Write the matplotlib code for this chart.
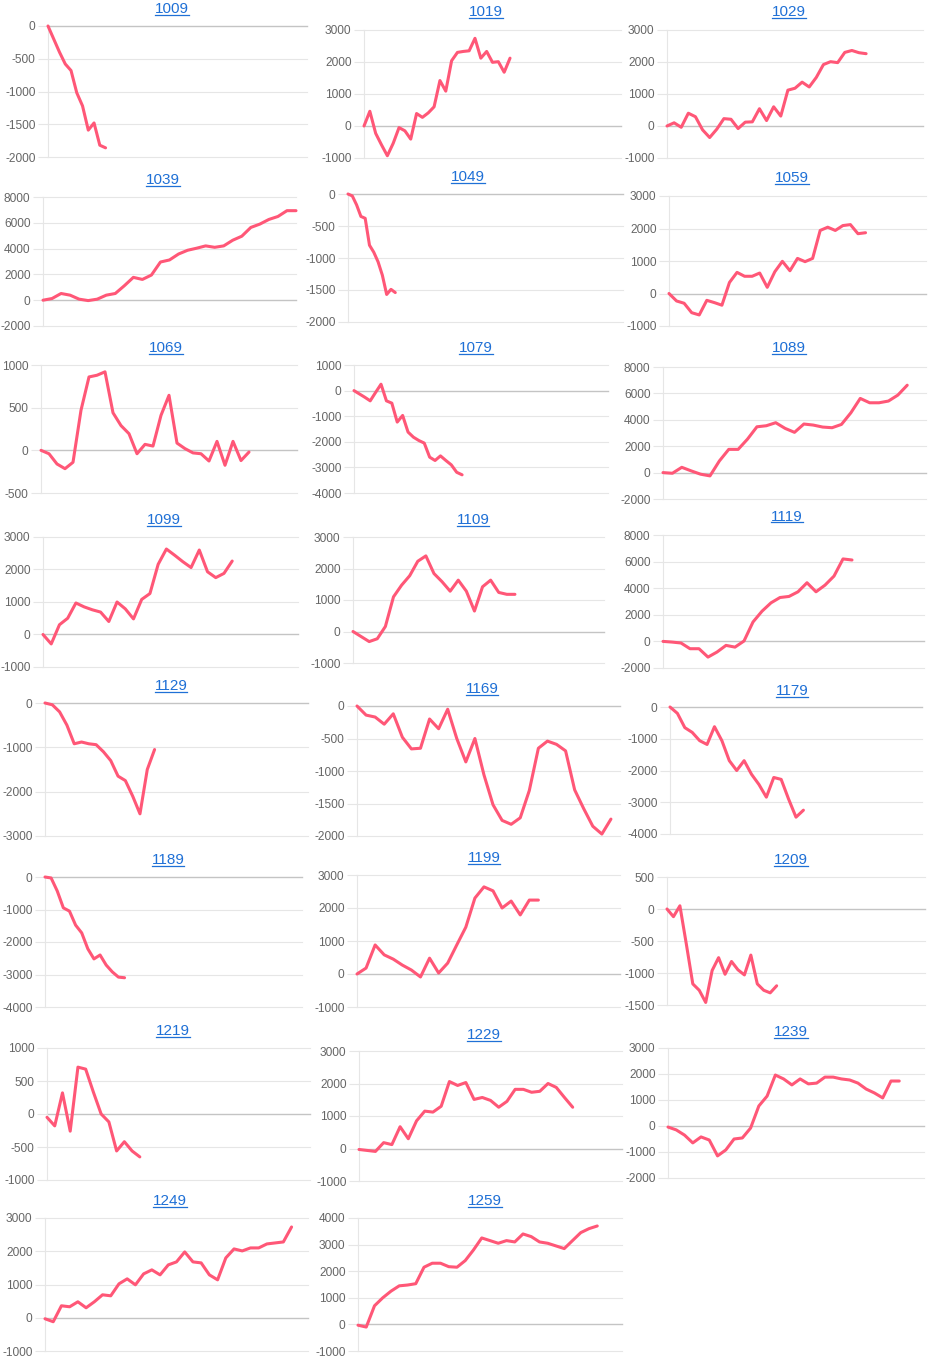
import matplotlib
matplotlib.use('Agg')
import matplotlib.pyplot as plt
from matplotlib.lines import Line2D
import numpy as np

plt.rcParams['font.family'] = ['Liberation Sans', 'DejaVu Sans']
plt.rcParams['axes.unicode_minus'] = False

W, H = 931, 1362

# chart names
titles = ['1009', '1019', '1029', '1039', '1049', '1059', '1069', '1079', '1089',
          '1099', '1109', '1119', '1129', '1169', '1179', '1189', '1199', '1209',
          '1219', '1229', '1239', '1249', '1259']

# cumulative values per chart
v1009 = [0, -200, -400, -580, -680, -1020, -1220, -1590, -1480, -1820, -1860]
v1019 = [0, 460, -230, -590, -930, -540, -50, -150, -410, 390, 270, 410, 600, 1420,
         1090, 2040, 2300, 2330, 2350, 2740, 2120, 2330, 1990, 2010, 1680, 2120]
v1029 = [0, 100, -40, 400, 290, -120, -360, -100, 230, 210, -80, 120, 130, 540, 170,
         600, 310, 1120, 1180, 1370, 1220, 1520, 1920, 2010, 1980, 2300, 2360, 2290, 2260]
v1039 = [0, 130, 520, 390, 80, -30, 80, 390, 520, 1120, 1770, 1610, 1950, 2960, 3120,
         3580, 3870, 4030, 4210, 4100, 4210, 4650, 4960, 5640, 5900, 6260, 6490, 6940, 6940]
v1049 = [0, -30, -170, -350, -380, -800, -910, -1060, -1270, -1570, -1490, -1540]
v1059 = [0, -230, -300, -590, -660, -210, -280, -360, 340, 650, 530, 530, 630, 190, 670,
         990, 700, 1080, 980, 1080, 1940, 2040, 1940, 2090, 2120, 1840, 1870]
v1069 = [0, -40, -160, -215, -140, 470, 860, 880, 920, 440, 290, 195, -40, 70, 50, 410,
         645, 85, 20, -30, -40, -125, 105, -175, 105, -120, -20]
v1079 = [0, -130, -260, -400, -70, 250, -400, -490, -1230, -970, -1620, -1820, -1950,
         -2050, -2600, -2730, -2550, -2730, -2900, -3190, -3290]
v1089 = [0, -50, 400, 130, -120, -250, 880, 1760, 1760, 2540, 3470, 3550, 3780, 3350,
         3050, 3680, 3600, 3450, 3400, 3650, 4530, 5620, 5290, 5290, 5420, 5870, 6620]
v1099 = [0, -290, 300, 500, 970, 850, 760, 690, 400, 1000, 790, 480, 1080, 1260, 2160,
         2630, 2440, 2240, 2060, 2600, 1930, 1750, 1880, 2260]
v1109 = [0, -160, -320, -230, 160, 1100, 1470, 1770, 2230, 2400, 1840, 1580, 1280, 1630,
         1280, 650, 1420, 1630, 1240, 1180, 1180]
v1119 = [0, -50, -120, -550, -550, -1180, -800, -300, -430, 30, 1460, 2270, 2900, 3300,
         3380, 3730, 4410, 3730, 4230, 4910, 6200, 6120]
v1129 = [0, -40, -200, -500, -920, -880, -920, -940, -1100, -1300, -1650, -1750, -2100,
         -2500, -1500, -1050]
v1169 = [0, -140, -170, -280, -120, -480, -660, -650, -200, -350, -50, -500, -860, -500,
         -1060, -1520, -1760, -1820, -1720, -1300, -650, -540, -590, -690, -1290, -1580,
         -1850, -1970, -1740]
v1179 = [0, -200, -650, -800, -1060, -1180, -620, -1060, -1690, -2000, -1690, -2120,
         -2440, -2840, -2220, -2280, -2900, -3470, -3250]
v1189 = [0, -30, -430, -950, -1050, -1480, -1720, -2210, -2520, -2400, -2710, -2920,
         -3080, -3100]
v1199 = [0, 180, 880, 580, 450, 270, 120, -90, 480, 30, 330, 880, 1420, 2300, 2640, 2520,
         2000, 2210, 1790, 2240, 2240]
v1209 = [0, -120, 50, -550, -1170, -1270, -1460, -960, -760, -1020, -820, -950, -1030,
         -720, -1170, -1270, -1310, -1200]
v1219 = [-50, -180, 320, -260, 710, 680, 330, 0, -120, -560, -420, -560, -650]
v1229 = [-30, -60, -90, 180, 120, 670, 300, 850, 1150, 1120, 1300, 2060, 1940, 2030, 1510,
         1570, 1480, 1270, 1450, 1820, 1820, 1730, 1760, 2000, 1880, 1570, 1270]
v1239 = [-40, -150, -350, -650, -420, -540, -1150, -920, -500, -460, -80, 770, 1150, 1960,
         1810, 1580, 1810, 1620, 1650, 1880, 1880, 1810, 1770, 1650, 1420, 1270, 1080,
         1730, 1730]
v1249 = [-30, -120, 360, 330, 480, 300, 480, 690, 660, 1020, 1170, 990, 1320, 1440, 1290,
         1590, 1680, 1980, 1680, 1650, 1290, 1140, 1800, 2070, 2010, 2100, 2100, 2220,
         2250, 2280, 2730]
v1259 = [-30, -100, 700, 1000, 1250, 1450, 1480, 1530, 2150, 2300, 2300, 2170, 2150, 2400,
         2800, 3250, 3150, 3050, 3150, 3100, 3400, 3300, 3100, 3050, 2950, 2850, 3150,
         3450, 3600, 3700]

series = [v1009, v1019, v1029, v1039, v1049, v1059, v1069, v1079, v1089, v1099, v1109,
          v1119, v1129, v1169, v1179, v1189, v1199, v1209, v1219, v1229, v1239, v1249, v1259]

# number of x labels on each chart
slots = [46, 45, 37, 29, 65, 35, 33, 48, 29, 32, 32, 30, 37, 30, 35, 43, 30, 41, 35, 33,
         32, 33, 33]

# y axis (min, max, step)
yscales = [(-2000, 0, 500), (-1000, 3000, 1000), (-1000, 3000, 1000), (-2000, 8000, 2000),
           (-2000, 0, 500), (-1000, 3000, 1000), (-500, 1000, 500), (-4000, 1000, 1000),
           (-2000, 8000, 2000), (-1000, 3000, 1000), (-1000, 3000, 1000), (-2000, 8000, 2000),
           (-3000, 0, 1000), (-2000, 0, 500), (-4000, 0, 1000), (-4000, 0, 1000),
           (-1000, 3000, 1000), (-1500, 500, 500), (-1000, 1000, 500), (-1000, 3000, 1000),
           (-2000, 3000, 1000), (-1000, 3000, 1000), (-1000, 4000, 1000)]

# plot area in pixels: left, top, right, bottom
boxes = [(48, 26, 307, 157), (364, 30, 621, 158), (667, 30, 923, 158),
         (43, 197, 296, 326), (348, 194, 623, 322), (669, 196, 926, 326),
         (41, 365, 297, 493), (354, 365, 608, 493), (663, 367, 926, 499),
         (43, 537, 298, 667), (353, 537, 604, 663), (663, 535, 924, 668),
         (45, 703, 308, 836), (357, 706, 620, 836), (670, 707, 922, 834),
         (45, 877, 302, 1007), (357, 875, 620, 1007), (667, 877, 925, 1005),
         (47, 1048, 310, 1180), (359, 1051, 622, 1181), (668, 1048, 924, 1178),
         (45, 1218, 308, 1351), (358, 1218, 622, 1351)]

# title centres in pixels
title_pos = [(172, 8), (486, 11), (789, 11), (163, 179), (468, 176), (792, 177),
             (166, 347), (476, 347), (789, 347), (164, 519), (473, 519), (787, 516),
             (171, 685), (482, 688), (792, 690), (168, 859), (484, 857), (791, 859),
             (173, 1030), (484, 1034), (791, 1031), (170, 1200), (485, 1200)]

LINE = '#ff5777'
GRID = '#e6e6e6'
ZERO = '#c4c4c4'
LINK = '#1f70d6'

fig = plt.figure(figsize=(W / 100, H / 100), dpi=100)
fig.patch.set_facecolor('white')

title_texts = []
for i, name in enumerate(titles):
    l, t, r, b = boxes[i]
    ax = fig.add_axes([l / W, 1 - b / H, (r - l) / W, (b - t) / H])
    vals = series[i]
    ax.plot(range(len(vals)), vals, color=LINE, lw=2.2, solid_joinstyle='round',
            solid_capstyle='round', clip_on=False, zorder=3)
    lo, hi, step = yscales[i]
    ax.set_ylim(lo, hi)
    ax.set_xlim(0, slots[i] - 1)
    ticks = np.arange(lo, hi + step, step)
    ax.set_yticks(ticks)
    ax.set_yticklabels([str(int(v)) for v in ticks])
    ax.set_xticks([])
    for side in ['top', 'right', 'bottom']:
        ax.spines[side].set_visible(False)
    ax.spines['left'].set_color(GRID)
    ax.spines['left'].set_linewidth(0.8)
    for v in ticks:
        ax.axhline(v, color=ZERO if v == 0 else GRID, lw=0.8 if v != 0 else 1.0,
                   zorder=1, clip_on=False)
    ax.tick_params(axis='y', length=7, width=0.8, color=GRID, labelcolor='#666666',
                   labelsize=8.6, pad=2)
    ax.set_facecolor('none')

    cx, cy = title_pos[i]
    txt = fig.text(cx / W, 1 - (cy + 5) / H, name, ha='center', va='baseline',
                   fontsize=11, color=LINK)
    title_texts.append((txt, cy))

fig.canvas.draw()
renderer = fig.canvas.get_renderer()
for txt, cy in title_texts:
    bb = txt.get_window_extent(renderer)
    yl = 1 - (cy + 6.5) / H
    fig.add_artist(Line2D([bb.x0 / W, bb.x1 / W], [yl, yl], transform=fig.transFigure,
                          color=LINK, lw=0.9))

fig.savefig('out.png', dpi=100, facecolor='white')
